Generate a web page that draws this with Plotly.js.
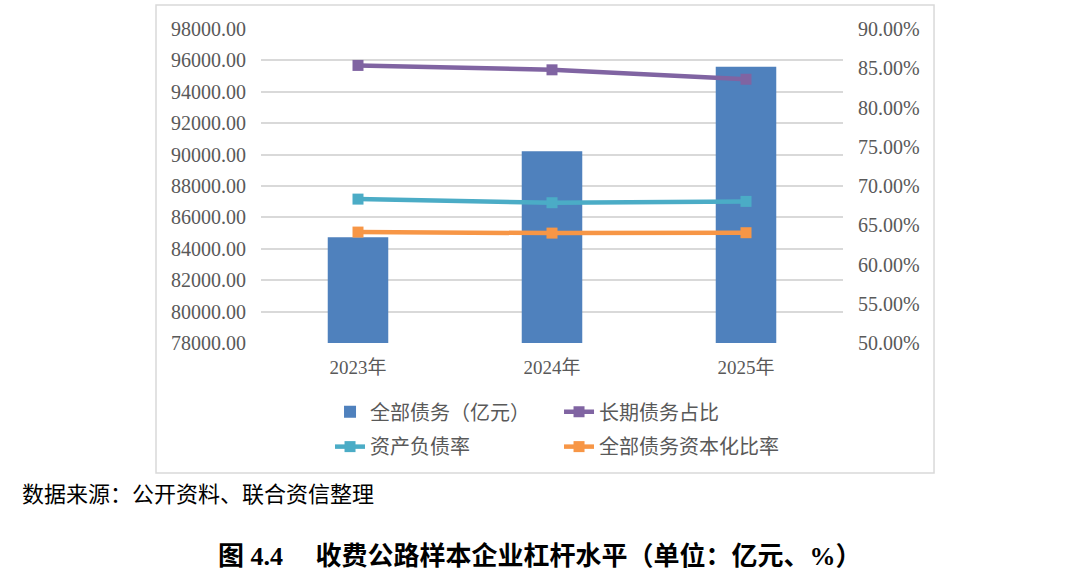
<!DOCTYPE html>
<html>
<head>
<meta charset="utf-8">
<script src="https://cdn.plot.ly/plotly-3.0.1.min.js"></script>
<style>
  html, body { margin: 0; padding: 0; background: #fff; }
</style>
</head>
<body>
<div id="chart"></div>
<script>
// chart values
const years = ["2023年", "2024年", "2025年"];
const totalDebt = [84730, 90220, 95600];          // 全部债务（亿元）
const longTermShare = [0.8536, 0.8480, 0.8360];   // 长期债务占比
const debtRatio = [0.6833, 0.6787, 0.6804];       // 资产负债率
const capRatio = [0.6413, 0.6400, 0.6405];        // 全部债务资本化比率

const seriesNames = ["全部债务（亿元）", "长期债务占比", "资产负债率", "全部债务资本化比率"];

const numFont = "Liberation Serif, Noto Sans CJK SC, serif";
const cjkFont = "Liberation Serif, Noto Sans CJK SC, sans-serif";

function lineTrace(name, values, color, legendId) {
    return {
        x: years,
        y: values,
        name: name,
        type: "scatter",
        mode: "lines+markers",
        yaxis: "y2",
        legend: legendId,
        line: { color: color, width: 4.5 },
        marker: { color: color, symbol: "square", size: 11 },
        hovertemplate: "%{x}<br>%{y:.2%}<extra>" + name + "</extra>"
    };
}

let bars = {
    x: years,
    y: totalDebt,
    name: seriesNames[0],
    type: "bar",
    legend: "legend",
    marker: { color: "#4F81BD" },
    hovertemplate: "%{x}<br>%{y:.2f}<extra></extra>"
};

let plotdata = [
    bars,
    lineTrace(seriesNames[1], longTermShare, "#8064A2", "legend"),
    lineTrace(seriesNames[2], debtRatio, "#4BACC6", "legend2"),
    lineTrace(seriesNames[3], capRatio, "#F79646", "legend2")
];

const legendBase = {
    orientation: "h",
    xanchor: "left",
    yanchor: "middle",
    x: 0.1186,
    entrywidth: 184,
    entrywidthmode: "pixels",
    bgcolor: "rgba(0,0,0,0)",
    font: { family: cjkFont, size: 20, color: "#595959" }
};

let layout = {
    width: 1080,
    height: 574,
    margin: { l: 261, r: 237, t: 29, b: 231 },
    paper_bgcolor: "#ffffff",
    plot_bgcolor: "#ffffff",
    bargap: 0.688,
    showlegend: true,
    xaxis: {
        type: "category",
        showgrid: false,
        zeroline: false,
        showline: false,
        ticks: "",
        ticklabelstandoff: 11,
        tickfont: { family: cjkFont, size: 19, color: "#595959" }
    },
    yaxis: {
        range: [78000, 98000],
        dtick: 2000,
        tickformat: ".2f",
        gridcolor: "#d9d9d9",
        gridwidth: 1.5,
        zeroline: false,
        showline: false,
        ticks: "",
        ticklabelstandoff: 14,
        tickfont: { family: numFont, size: 20, color: "#595959" }
    },
    yaxis2: {
        overlaying: "y",
        side: "right",
        range: [0.5, 0.9],
        dtick: 0.05,
        tickformat: ".2%",
        showgrid: false,
        zeroline: false,
        showline: false,
        ticks: "",
        ticklabelstandoff: 14,
        tickfont: { family: numFont, size: 20, color: "#595959" }
    },
    legend: Object.assign({}, legendBase, { y: -0.219 }),
    legend2: Object.assign({}, legendBase, { y: -0.330 }),
    shapes: [{
        type: "rect",
        xref: "paper", yref: "paper",
        x0: -0.1804, x1: 1.1564, y0: -0.414, y1: 1.0764,
        line: { color: "#d9d9d9", width: 1.5 },
        fillcolor: "rgba(0,0,0,0)",
        layer: "below"
    }],
    annotations: [
        {
            text: "数据来源：公开资料、联合资信整理",
            xref: "paper", yref: "paper",
            x: -0.414, y: -0.481,
            xanchor: "left", yanchor: "middle",
            showarrow: false,
            font: { family: cjkFont, size: 22, color: "#000000" }
        },
        {
            text: "<b>图 4.4\u00a0\u00a0\u00a0\u00a0\u00a0收费公路样本企业杠杆水平（单位：亿元、%）</b>",
            xref: "paper", yref: "paper",
            x: 0.4794, y: -0.678,
            xanchor: "center", yanchor: "middle",
            showarrow: false,
            font: { family: cjkFont, size: 26, color: "#000000" }
        }
    ]
};

Plotly.newPlot("chart", plotdata, layout, { displayModeBar: false });
</script>
</body>
</html>
